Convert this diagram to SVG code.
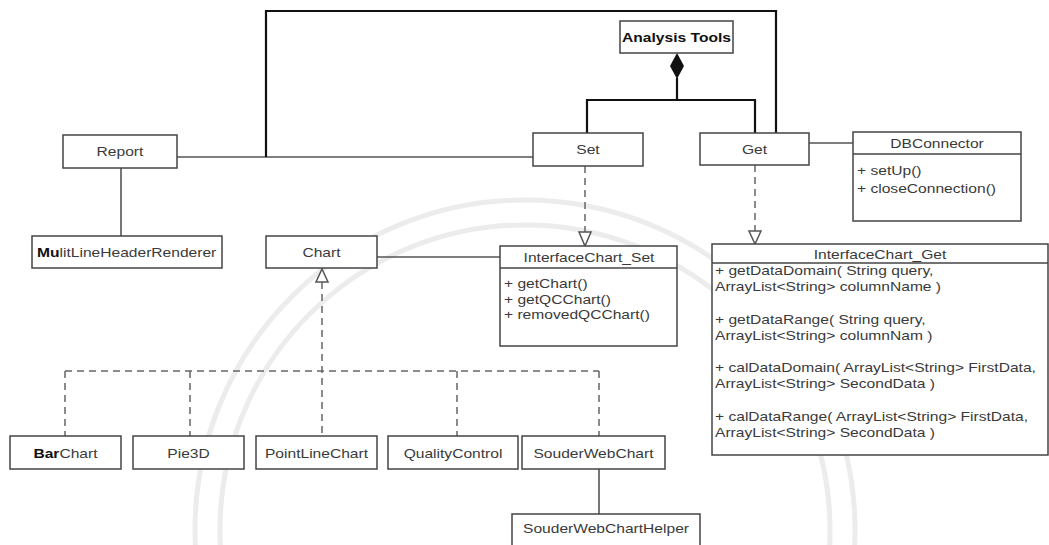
<svg xmlns="http://www.w3.org/2000/svg" width="1049" height="545" viewBox="0 0 1049 545">
  <defs>
    <style>
      .box{fill:#fff;stroke:#444;stroke-width:1.5}
      .sep{stroke:#444;stroke-width:1.5}
      .t{font-family:"Liberation Sans",Arial,sans-serif;font-size:13px;fill:#3a3a3a}
      .c{text-anchor:middle}
      .b{font-weight:bold;fill:#111}
      .solid{fill:none;stroke:#555;stroke-width:1.6}
      .heavy{fill:none;stroke:#111;stroke-width:2.2}
      .dash{fill:none;stroke:#666;stroke-width:1.5;stroke-dasharray:7 5}
      .tri{fill:#fff;stroke:#555;stroke-width:1.5}
      .ring{fill:none;stroke:#ececec;stroke-width:5}
    </style>
  </defs>
  <rect width="1049" height="545" fill="#fff"/>

  <!-- faint seal in the background -->
  <g id="watermark">
    <circle class="ring" cx="525" cy="530" r="330"/>
    <circle class="ring" cx="525" cy="530" r="305"/>
  </g>

  <g id="connectors">
    <!-- Report to Set, and the loop over the top to Get -->
    <line class="solid" x1="177" y1="157" x2="533" y2="157"/>
    <polyline class="heavy" points="266,157 266,11 776,11 776,133"/>
    <!-- composition: Analysis Tools owns Set and Get -->
    <polyline class="heavy" points="677,78 677,100"/>
    <polyline class="heavy" points="587,133 587,100 755,100 755,133"/>
    <polygon points="677,53 684,66 677,79 670,66" fill="#111"/>
    <!-- Get to DBConnector -->
    <line class="solid" x1="809" y1="143" x2="853" y2="143" stroke="#222"/>
    <!-- Report to MulitLineHeaderRenderer -->
    <line class="solid" x1="121" y1="168" x2="121" y2="236" stroke-width="2"/>
    <!-- Chart to InterfaceChart_Set -->
    <line class="solid" x1="377" y1="257" x2="500" y2="257"/>
    <!-- realizations of the interfaces -->
    <line class="dash" x1="585" y1="166" x2="585" y2="232"/>
    <polygon class="tri" points="579,232 591,232 585,246"/>
    <line class="dash" x1="755" y1="165" x2="755" y2="231"/>
    <polygon class="tri" points="749,231 761,231 755,244"/>
    <!-- chart types realize Chart -->
    <line class="dash" x1="322" y1="282" x2="322" y2="436"/>
    <polygon class="tri" points="316,282 328,282 322,269"/>
    <line class="dash" x1="65" y1="371" x2="599" y2="371"/>
    <line class="dash" x1="65" y1="371" x2="65" y2="436"/>
    <line class="dash" x1="190" y1="371" x2="190" y2="436"/>
    <line class="dash" x1="457" y1="371" x2="457" y2="436"/>
    <line class="dash" x1="599" y1="371" x2="599" y2="436"/>
    <!-- SouderWebChart to its helper -->
    <line class="solid" x1="599" y1="469" x2="599" y2="514"/>
  </g>

  <g id="analysis-tools">
    <rect class="box" x="620" y="21" width="113" height="32" stroke="#111"/>
    <text class="t c b" transform="translate(676.5,42) scale(1.2,1)">Analysis Tools</text>
  </g>

  <g id="report">
    <rect class="box" x="63" y="135" width="114" height="33"/>
    <text class="t c" transform="translate(120,156) scale(1.2,1)">Report</text>
  </g>

  <g id="set">
    <rect class="box" x="533" y="133" width="110" height="33"/>
    <text class="t c" transform="translate(588,154) scale(1.2,1)">Set</text>
  </g>

  <g id="get">
    <rect class="box" x="700" y="133" width="109" height="32"/>
    <text class="t c" transform="translate(754.5,154) scale(1.2,1)">Get</text>
  </g>

  <g id="dbconnector">
    <rect class="box" x="853" y="132" width="168" height="89" stroke="#222"/>
    <line class="sep" x1="853" y1="154" x2="1021" y2="154"/>
    <text class="t c" transform="translate(937,148) scale(1.2,1)" fill="#222">DBConnector</text>
    <text class="t" transform="translate(857,175) scale(1.2,1)" fill="#222">+ setUp()</text>
    <text class="t" transform="translate(857,193) scale(1.2,1)" fill="#222">+ closeConnection()</text>
  </g>

  <g id="multiline-header-renderer">
    <rect class="box" x="32" y="236" width="190" height="32"/>
    <text class="t" transform="translate(37,257) scale(1.2,1)"><tspan class="b">Mu</tspan>litLineHeaderRenderer</text>
  </g>

  <g id="chart">
    <rect class="box" x="266" y="236" width="111" height="32"/>
    <text class="t c" transform="translate(321.5,257) scale(1.2,1)">Chart</text>
  </g>

  <g id="interfacechart-set">
    <rect class="box" x="500" y="246" width="177" height="100"/>
    <line class="sep" x1="500" y1="268" x2="677" y2="268"/>
    <text class="t c" transform="translate(589,262) scale(1.2,1)">InterfaceChart_Set</text>
    <text class="t" transform="translate(504,288) scale(1.2,1)">+ getChart()</text>
    <text class="t" transform="translate(504,304) scale(1.2,1)">+ getQCChart()</text>
    <text class="t" transform="translate(504,319) scale(1.2,1)">+ removedQCChart()</text>
  </g>

  <g id="interfacechart-get">
    <rect class="box" x="712" y="244" width="336" height="211"/>
    <line class="sep" x1="712" y1="263" x2="1048" y2="263"/>
    <text class="t c" transform="translate(880,259) scale(1.2,1)">InterfaceChart_Get</text>
    <text class="t" transform="translate(715,275) scale(1.2,1)">+ getDataDomain( String query,</text>
    <text class="t" transform="translate(715,291) scale(1.2,1)">ArrayList&lt;String&gt; columnName )</text>
    <text class="t" transform="translate(715,324) scale(1.2,1)">+ getDataRange( String query,</text>
    <text class="t" transform="translate(715,340) scale(1.2,1)">ArrayList&lt;String&gt; columnNam )</text>
    <text class="t" transform="translate(715,372) scale(1.2,1)">+ calDataDomain( ArrayList&lt;String&gt; FirstData,</text>
    <text class="t" transform="translate(715,388) scale(1.2,1)">ArrayList&lt;String&gt; SecondData )</text>
    <text class="t" transform="translate(715,421) scale(1.2,1)">+ calDataRange( ArrayList&lt;String&gt; FirstData,</text>
    <text class="t" transform="translate(715,437) scale(1.2,1)">ArrayList&lt;String&gt; SecondData )</text>
  </g>

  <g id="barchart">
    <rect class="box" x="10" y="436" width="111" height="33" stroke="#222"/>
    <text class="t c" transform="translate(65.5,458) scale(1.2,1)"><tspan class="b">Bar</tspan>Chart</text>
  </g>

  <g id="pie3d">
    <rect class="box" x="133" y="436" width="111" height="33"/>
    <text class="t c" transform="translate(188.5,458) scale(1.2,1)">Pie3D</text>
  </g>

  <g id="pointlinechart">
    <rect class="box" x="256" y="436" width="121" height="33"/>
    <text class="t c" transform="translate(316.5,458) scale(1.2,1)">PointLineChart</text>
  </g>

  <g id="qualitycontrol">
    <rect class="box" x="388" y="436" width="130" height="33"/>
    <text class="t c" transform="translate(453,458) scale(1.2,1)">QualityControl</text>
  </g>

  <g id="souderwebchart">
    <rect class="box" x="522" y="436" width="143" height="33"/>
    <text class="t c" transform="translate(593.5,458) scale(1.2,1)">SouderWebChart</text>
  </g>

  <g id="souderwebcharthelper">
    <rect class="box" x="512" y="514" width="188" height="45"/>
    <text class="t c" transform="translate(606,533) scale(1.2,1)">SouderWebChartHelper</text>
  </g>
</svg>
